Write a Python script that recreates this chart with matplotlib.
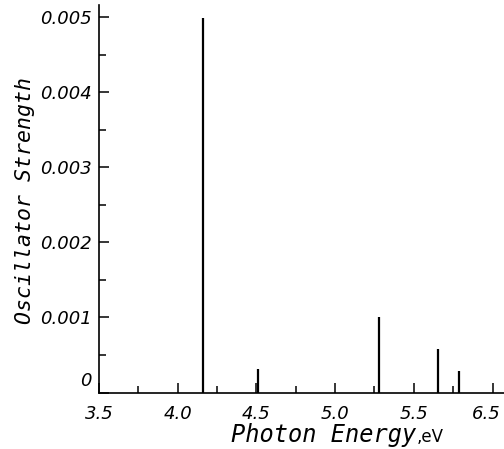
import matplotlib
matplotlib.use("Agg")
import matplotlib.pyplot as plt
from matplotlib.ticker import FixedLocator, MultipleLocator
from matplotlib.transforms import ScaledTranslation

# Transition energies (eV) and oscillator strengths
energy = [4.16, 4.51, 5.28, 5.655, 5.79]
strength = [0.00499, 0.00031, 0.00101, 0.00058, 0.00029]

x_ticks = [3.5, 4.0, 4.5, 5.0, 5.5, 6.0]
x_tick_labels = ["3.5", "4.0", "4.5", "5.0", "5.5", "6.5"]
y_ticks = [0, 0.001, 0.002, 0.003, 0.004, 0.005]
y_tick_labels = ["0", "0.001", "0.002", "0.003", "0.004", "0.005"]

W, H, DPI = 504, 449, 100
fig = plt.figure(figsize=(W / DPI, H / DPI), dpi=DPI)
fig.patch.set_facecolor("white")

# axes placement in pixels
left, right, bottom, top = 99, 504, 392.5, 5
ax = fig.add_axes([left / W, (H - bottom) / H, (right - left) / W, (bottom - top) / H])

ax.vlines(energy, 0, strength, colors="black", linewidth=1.6)

ax.set_xlim(3.5, 6.073)
ax.set_ylim(0, 0.005164)

for s in ("top", "right"):
    ax.spines[s].set_visible(False)
for s in ("left", "bottom"):
    ax.spines[s].set_linewidth(1.2)
    ax.spines[s].set_color("black")

ax.xaxis.set_major_locator(FixedLocator(x_ticks))
ax.xaxis.set_minor_locator(MultipleLocator(0.25))
ax.yaxis.set_major_locator(FixedLocator(y_ticks))
ax.yaxis.set_minor_locator(MultipleLocator(0.0005))
ax.set_xticklabels(x_tick_labels)
ax.set_yticklabels(y_tick_labels)

ax.tick_params(axis="both", which="major", direction="in", length=7.5, width=1.1,
               color="black")
ax.tick_params(axis="both", which="minor", direction="in", length=5, width=1.1,
               color="black")
ax.tick_params(axis="x", which="major", pad=9)
ax.tick_params(axis="y", which="major", pad=5)

tick_font = dict(family="DejaVu Sans", style="oblique", size=13)
for lab in ax.get_xticklabels() + ax.get_yticklabels():
    lab.set_fontfamily(tick_font["family"])
    lab.set_fontstyle(tick_font["style"])
    lab.set_fontsize(tick_font["size"])

# nudge the zero label upward and the last energy label inward
ylabs = ax.get_yticklabels()
ylabs[0].set_transform(ylabs[0].get_transform() + ScaledTranslation(0, 0.14, fig.dpi_scale_trans))
xlabs = ax.get_xticklabels()
xlabs[-1].set_transform(xlabs[-1].get_transform() + ScaledTranslation(-0.06, 0, fig.dpi_scale_trans))

# axis titles
fig.text(416 / W, (H - 442) / H, "Photon Energy", family="DejaVu Sans Mono",
         style="oblique", fontsize=17, ha="right", va="baseline")
fig.text(417 / W, (H - 442) / H, ",eV", family="DejaVu Sans", fontsize=12,
         ha="left", va="baseline")
fig.text(25 / W, (H - 200) / H, "Oscillator Strength", family="DejaVu Sans Mono",
         style="oblique", fontsize=15.5, rotation=90, ha="center", va="center")

fig.savefig("out.png", dpi=DPI)
